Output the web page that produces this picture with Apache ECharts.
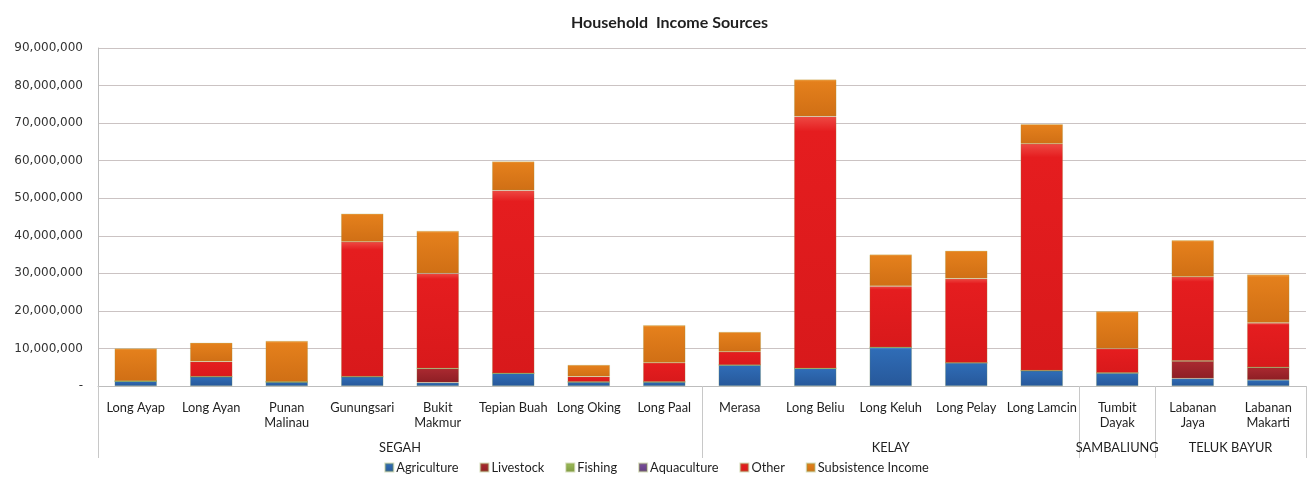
<!DOCTYPE html>
<html>
<head>
<meta charset="utf-8">
<title>Household Income Sources</title>
<script src="https://cdn.jsdelivr.net/npm/echarts@6/dist/echarts.min.js"></script>
<style>
  html, body { margin: 0; padding: 0; background: #ffffff; }
  #chart { width: 1313px; height: 481px; }
</style>
</head>
<body>
<div id="chart"></div>
<script>
// Villages (x categories), grouped by district
const villages = [
  'Long Ayap', 'Long Ayan', 'Punan\nMalinau', 'Gunungsari', 'Bukit\nMakmur',
  'Tepian Buah', 'Long Oking', 'Long Paal', 'Merasa', 'Long Beliu',
  'Long Keluh', 'Long Pelay', 'Long Lamcin', 'Tumbit\nDayak', 'Labanan\nJaya',
  'Labanan\nMakarti'
];
const districts = ['SEGAH', 'KELAY', 'SAMBALIUNG', 'TELUK BAYUR'];
const districtSizes = [8, 5, 1, 2];

// Income by source (Rupiah)
const agriculture = [1300000, 2500000, 1100000, 2500000, 900000, 3400000, 1100000, 1100000,
  5600000, 4700000, 10300000, 6200000, 4100000, 3500000, 2000000, 1600000];
const livestock = [0, 0, 0, 0, 3800000, 0, 0, 0, 0, 0, 0, 0, 0, 0, 4700000, 3400000];
const fishing = [0, 0, 0, 0, 0, 0, 0, 0, 0, 0, 0, 0, 0, 0, 0, 0];
const aquaculture = [0, 0, 0, 0, 0, 0, 0, 0, 0, 0, 0, 0, 0, 0, 0, 0];
const other = [0, 4000000, 0, 35900000, 25300000, 48700000, 1400000, 5100000,
  3500000, 67100000, 16300000, 22400000, 60400000, 6500000, 22400000, 11800000];
const subsistence = [8700000, 5000000, 10900000, 7500000, 11300000, 7700000, 3100000, 10000000,
  5300000, 9800000, 8400000, 7400000, 5200000, 9900000, 9700000, 12900000];

const seriesNames = ['Agriculture', 'Livestock', 'Fishing', 'Aquaculture', 'Other', 'Subsistence Income'];
const seriesData = [agriculture, livestock, fishing, aquaculture, other, subsistence];
const seriesColors = [
  ['#5f97d6', '#2f6cb6', '#27589a'],
  ['#c9545a', '#a92930', '#8e1e24'],
  ['#b7cf7a', '#9bbb59', '#7f9b44'],
  ['#9a78b8', '#7a4f9d', '#613c80'],
  ['#ee4a44', '#e51d1f', '#d8191b'],
  ['#f4a246', '#e4801c', '#d06f15']
];

// District boundaries and label centres on a 0..n scale
const boundaries = [0];
const midpoints = [];
districtSizes.forEach(function (s) {
  const start = boundaries[boundaries.length - 1];
  midpoints.push(start + s / 2);
  boundaries.push(start + s);
});

function fmtNum(v) {
  if (v === 0) return '-';
  return String(v).replace(/\B(?=(\d{3})+(?!\d))/g, ',');
}

const FONT = 'Lato, "Open Sans", sans-serif';
const TEXT = '#1f1f1f';

const chart = echarts.init(document.getElementById('chart'), null, { renderer: 'canvas' });

chart.setOption({
  backgroundColor: '#ffffff',
  animation: false,
  textStyle: { fontFamily: FONT },
  title: {
    text: 'Household  Income Sources',
    left: 566,
    top: 10,
    textStyle: { fontFamily: FONT, fontSize: 16, fontWeight: 'bold', color: TEXT }
  },
  legend: {
    bottom: 2,
    left: 'center',
    icon: 'rect',
    itemWidth: 8,
    itemHeight: 8,
    itemGap: 21,
    textStyle: { fontFamily: FONT, fontSize: 12.8, color: TEXT, padding: [0, 0, 0, -2] },
    data: seriesNames
  },
  grid: { left: 98, right: 7, top: 48, bottom: 95, containLabel: false },
  xAxis: [
    {
      type: 'category',
      data: villages,
      position: 'bottom',
      axisLine: { show: true, lineStyle: { color: '#bdbdbd', width: 1 } },
      axisTick: { show: false },
      axisLabel: {
        interval: 0,
        margin: 14,
        fontFamily: FONT,
        fontSize: 12.8,
        color: TEXT,
        lineHeight: 15
      },
      splitLine: { show: false }
    },
    {
      type: 'value',
      position: 'bottom',
      min: 0,
      max: villages.length,
      axisLine: { show: false },
      splitLine: { show: false },
      axisTick: {
        show: true,
        customValues: boundaries,
        length: 72,
        lineStyle: { color: '#c8c8c8', width: 1 }
      },
      axisLabel: {
        show: true,
        customValues: midpoints,
        margin: 55,
        fontFamily: FONT,
        fontSize: 12.8,
        color: TEXT,
        formatter: function (v) {
          const i = midpoints.indexOf(v);
          return i >= 0 ? districts[i] : '';
        }
      }
    }
  ],
  yAxis: {
    type: 'value',
    min: 0,
    max: 90000000,
    interval: 10000000,
    axisLine: { show: true, lineStyle: { color: '#bdbdbd', width: 1 } },
    axisTick: { show: false },
    splitLine: { show: true, lineStyle: { color: '#cbc3c3', width: 1 } },
    axisLabel: {
      margin: 15,
      fontFamily: '"DejaVu Sans", sans-serif',
      fontSize: 12,
      color: '#333333',
      formatter: fmtNum
    }
  },
  series: seriesNames.map(function (name, i) {
    const c = seriesColors[i];
    return {
      name: name,
      type: 'bar',
      stack: 'income',
      xAxisIndex: 0,
      barWidth: '56%',
      data: seriesData[i],
      itemStyle: {
        color: new echarts.graphic.LinearGradient(0, 0, 0, 1, [
          { offset: 0, color: c[0] },
          { offset: 0.06, color: c[1] },
          { offset: 1, color: c[2] }
        ]),
        borderColor: 'rgba(140,160,70,0.35)',
        borderWidth: 0.6
      },
      emphasis: { disabled: true }
    };
  })
});
</script>
</body>
</html>
